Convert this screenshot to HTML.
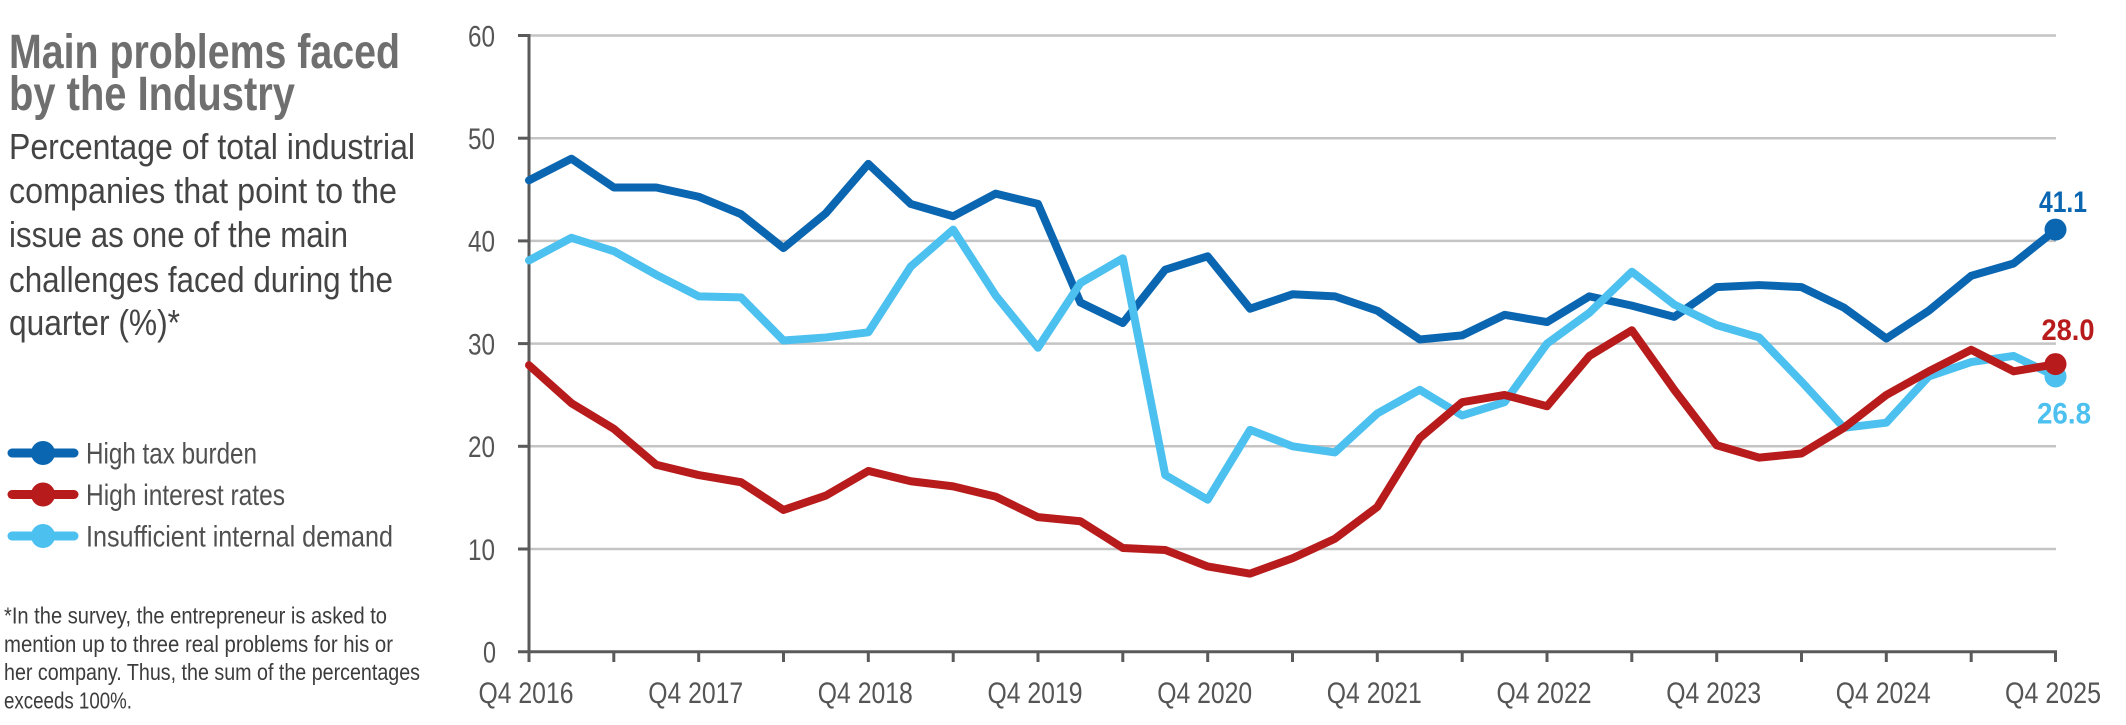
<!DOCTYPE html>
<html><head><meta charset="utf-8"><style>
html,body{margin:0;padding:0;background:#fff;}
svg{display:block;}
text{font-family:"Liberation Sans",sans-serif;}
</style></head><body>
<svg width="2126" height="725" viewBox="0 0 2126 725" xmlns="http://www.w3.org/2000/svg">
<!-- Title -->
<g fill="#6f6f6f" font-weight="bold" font-size="48">
<text x="9" y="68" textLength="391" lengthAdjust="spacingAndGlyphs">Main problems faced</text>
<text x="9" y="110" textLength="286" lengthAdjust="spacingAndGlyphs">by the Industry</text>
</g>
<g fill="#444" font-size="36">
<text x="9" y="159" textLength="406" lengthAdjust="spacingAndGlyphs">Percentage of total industrial</text>
<text x="9" y="203" textLength="388" lengthAdjust="spacingAndGlyphs">companies that point to the</text>
<text x="9" y="247" textLength="339" lengthAdjust="spacingAndGlyphs">issue as one of the main</text>
<text x="9" y="292" textLength="384" lengthAdjust="spacingAndGlyphs">challenges faced during the</text>
<text x="9" y="335" textLength="171" lengthAdjust="spacingAndGlyphs">quarter (%)*</text>
</g>
<!-- Legend -->
<g stroke-width="9" stroke-linecap="round">
<line x1="12" y1="453" x2="74" y2="453" stroke="#0b66b1"/>
<line x1="12" y1="494.5" x2="74" y2="494.5" stroke="#b81b1b"/>
<line x1="12" y1="536" x2="74" y2="536" stroke="#4cc0ef"/>
</g>
<circle cx="43" cy="453" r="12" fill="#0b66b1"/>
<circle cx="43" cy="494.5" r="12" fill="#b81b1b"/>
<circle cx="43" cy="536" r="12" fill="#4cc0ef"/>
<g fill="#505050" font-size="30">
<text x="86" y="463.5" textLength="171" lengthAdjust="spacingAndGlyphs">High tax burden</text>
<text x="86" y="505" textLength="199" lengthAdjust="spacingAndGlyphs">High interest rates</text>
<text x="86" y="546.5" textLength="307" lengthAdjust="spacingAndGlyphs">Insufficient internal demand</text>
</g>
<!-- Footnote -->
<g fill="#3c3c3c" font-size="23">
<text x="4" y="623.5" textLength="383" lengthAdjust="spacingAndGlyphs">*In the survey, the entrepreneur is asked to</text>
<text x="4" y="652" textLength="389" lengthAdjust="spacingAndGlyphs">mention up to three real problems for his or</text>
<text x="4" y="680" textLength="416" lengthAdjust="spacingAndGlyphs">her company. Thus, the sum of the percentages</text>
<text x="4" y="708.5" textLength="128" lengthAdjust="spacingAndGlyphs">exceeds 100%.</text>
</g>
<!-- Gridlines -->
<g stroke="#c4c4c4" stroke-width="2.5">
<line x1="529" y1="35.5" x2="2056" y2="35.5"/>
<line x1="529" y1="138.2" x2="2056" y2="138.2"/>
<line x1="529" y1="240.9" x2="2056" y2="240.9"/>
<line x1="529" y1="343.6" x2="2056" y2="343.6"/>
<line x1="529" y1="446.3" x2="2056" y2="446.3"/>
<line x1="529" y1="549" x2="2056" y2="549"/>
</g>
<!-- Axes -->
<g stroke="#5a5a5a" stroke-width="3">
<line x1="529" y1="34" x2="529" y2="653"/>
<line x1="518" y1="651.7" x2="2057" y2="651.7"/>
<line x1="518" y1="35.5" x2="529" y2="35.5"/>
<line x1="518" y1="138.2" x2="529" y2="138.2"/>
<line x1="518" y1="240.9" x2="529" y2="240.9"/>
<line x1="518" y1="343.6" x2="529" y2="343.6"/>
<line x1="518" y1="446.3" x2="529" y2="446.3"/>
<line x1="518" y1="549" x2="529" y2="549"/>
<line x1="529" y1="651.7" x2="529" y2="662"/>
<line x1="613.8" y1="651.7" x2="613.8" y2="662"/>
<line x1="698.7" y1="651.7" x2="698.7" y2="662"/>
<line x1="783.5" y1="651.7" x2="783.5" y2="662"/>
<line x1="868.3" y1="651.7" x2="868.3" y2="662"/>
<line x1="953.2" y1="651.7" x2="953.2" y2="662"/>
<line x1="1038" y1="651.7" x2="1038" y2="662"/>
<line x1="1122.8" y1="651.7" x2="1122.8" y2="662"/>
<line x1="1207.7" y1="651.7" x2="1207.7" y2="662"/>
<line x1="1292.5" y1="651.7" x2="1292.5" y2="662"/>
<line x1="1377.3" y1="651.7" x2="1377.3" y2="662"/>
<line x1="1462.2" y1="651.7" x2="1462.2" y2="662"/>
<line x1="1547" y1="651.7" x2="1547" y2="662"/>
<line x1="1631.8" y1="651.7" x2="1631.8" y2="662"/>
<line x1="1716.7" y1="651.7" x2="1716.7" y2="662"/>
<line x1="1801.5" y1="651.7" x2="1801.5" y2="662"/>
<line x1="1886.3" y1="651.7" x2="1886.3" y2="662"/>
<line x1="1971.2" y1="651.7" x2="1971.2" y2="662"/>
<line x1="2055.5" y1="651.7" x2="2055.5" y2="662"/>
</g>
<!-- Y labels -->
<g fill="#555" font-size="30" text-anchor="end">
<text x="495" y="46.5" textLength="27" lengthAdjust="spacingAndGlyphs">60</text>
<text x="495" y="149" textLength="27" lengthAdjust="spacingAndGlyphs">50</text>
<text x="495" y="251.7" textLength="27" lengthAdjust="spacingAndGlyphs">40</text>
<text x="495" y="354.4" textLength="27" lengthAdjust="spacingAndGlyphs">30</text>
<text x="495" y="457.1" textLength="27" lengthAdjust="spacingAndGlyphs">20</text>
<text x="495" y="559.8" textLength="27" lengthAdjust="spacingAndGlyphs">10</text>
<text x="496" y="662.5" textLength="13" lengthAdjust="spacingAndGlyphs">0</text>
</g>
<!-- X labels -->
<g fill="#555" font-size="30" text-anchor="middle">
<text x="526" y="703" textLength="95" lengthAdjust="spacingAndGlyphs">Q4 2016</text>
<text x="695.7" y="703" textLength="95" lengthAdjust="spacingAndGlyphs">Q4 2017</text>
<text x="865.3" y="703" textLength="95" lengthAdjust="spacingAndGlyphs">Q4 2018</text>
<text x="1035" y="703" textLength="95" lengthAdjust="spacingAndGlyphs">Q4 2019</text>
<text x="1204.7" y="703" textLength="95" lengthAdjust="spacingAndGlyphs">Q4 2020</text>
<text x="1374.3" y="703" textLength="95" lengthAdjust="spacingAndGlyphs">Q4 2021</text>
<text x="1544" y="703" textLength="95" lengthAdjust="spacingAndGlyphs">Q4 2022</text>
<text x="1713.7" y="703" textLength="95" lengthAdjust="spacingAndGlyphs">Q4 2023</text>
<text x="1883.3" y="703" textLength="95" lengthAdjust="spacingAndGlyphs">Q4 2024</text>
<text x="2053" y="703" textLength="96" lengthAdjust="spacingAndGlyphs">Q4 2025</text>
</g>
<!-- Series -->
<g transform="translate(529,651.7) scale(42.417,-10.27)" fill="none" stroke-linejoin="round" stroke-linecap="round">
<polyline vector-effect="non-scaling-stroke" stroke="#0b66b1" stroke-width="8" points="0,45.9 1,48.0 2,45.2 3,45.2 4,44.3 5,42.6 6,39.3 7,42.7 8,47.5 9,43.6 10,42.4 11,44.6 12,43.6 13,34.0 14,32.0 15,37.2 16,38.5 17,33.4 18,34.8 19,34.6 20,33.2 21,30.4 22,30.8 23,32.8 24,32.1 25,34.6 26,33.7 27,32.6 28,35.5 29,35.7 30,35.5 31,33.5 32,30.5 33,33.2 34,36.6 35,37.8 36,41.1"/>
<polyline vector-effect="non-scaling-stroke" stroke="#4cc0ef" stroke-width="8" points="0,38.1 1,40.3 2,39.0 3,36.7 4,34.6 5,34.5 6,30.3 7,30.6 8,31.1 9,37.5 10,41.1 11,34.7 12,29.6 13,35.9 14,38.3 15,17.2 16,14.8 17,21.6 18,20.0 19,19.4 20,23.2 21,25.5 22,23.0 23,24.3 24,30.0 25,33.0 26,37.0 27,33.8 28,31.8 29,30.6 30,26.3 31,21.8 32,22.3 33,26.8 34,28.2 35,28.8 36,26.8"/>
<polyline vector-effect="non-scaling-stroke" stroke="#b81b1b" stroke-width="8" points="0,27.9 1,24.2 2,21.7 3,18.2 4,17.2 5,16.5 6,13.8 7,15.2 8,17.6 9,16.6 10,16.1 11,15.1 12,13.1 13,12.7 14,10.1 15,9.9 16,8.3 17,7.6 18,9.1 19,11.0 20,14.1 21,20.8 22,24.3 23,25.0 24,23.9 25,28.8 26,31.3 27,25.5 28,20.1 29,18.9 30,19.3 31,21.8 32,25.0 33,27.3 34,29.4 35,27.3 36,28.0"/>
</g>
<!-- End markers -->
<circle cx="2055.5" cy="229.6" r="11" fill="#0b66b1"/>
<circle cx="2055.5" cy="376.5" r="11" fill="#4cc0ef"/>
<circle cx="2055.5" cy="364.1" r="11" fill="#b81b1b"/>
<g font-size="30" font-weight="bold" text-anchor="middle">
<text x="2063" y="212" fill="#0b66b1" textLength="48" lengthAdjust="spacingAndGlyphs">41.1</text>
<text x="2068" y="340" fill="#b81b1b" textLength="53" lengthAdjust="spacingAndGlyphs">28.0</text>
<text x="2064" y="423.5" fill="#4cc0ef" textLength="54" lengthAdjust="spacingAndGlyphs">26.8</text>
</g>
</svg>
</body></html>
